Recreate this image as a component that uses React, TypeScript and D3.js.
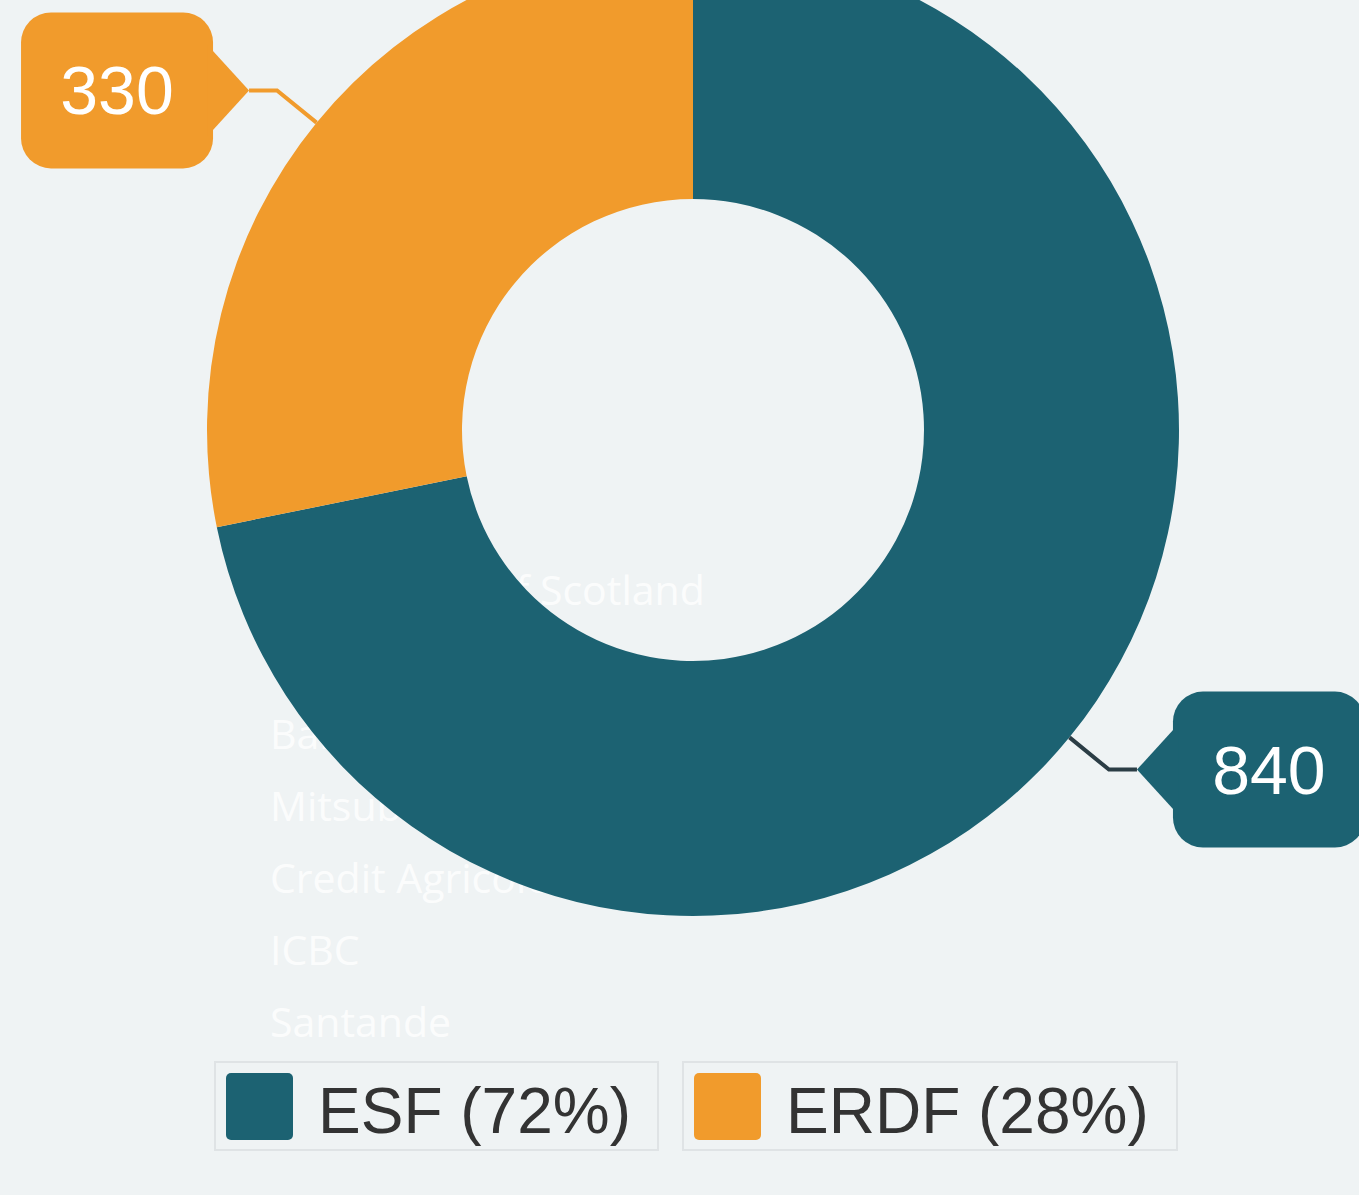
import React from "react";
import * as d3 from "d3";

const categories = ["ESF", "ERDF"];
const values = [840, 330];
const colors = ["#1c6272", "#f19b2c"];
const connectorColors = ["#2b3d45", "#f19b2c"];
const ghostLabels = [
  "Royal Bank of Scotland",
  "BNP Paribas",
  "Barclays",
  "Mitsubishi UFJ",
  "Credit Agricole",
  "ICBC",
  "Santande",
];

const W = 1359;
const H = 1195;
const BG = "#eff3f4";

export default function App() {
  const cx = 693;
  const cy = 430;
  const outerR = 486;
  const innerR = 231;
  const total = d3.sum(values);

  const pie = d3
    .pie<number>()
    .sort(null)
    .value((d) => d)
    .startAngle(0)
    .endAngle(2 * Math.PI);
  const arcs = pie(values);
  const arc = d3.arc<d3.PieArcDatum<number>>().innerRadius(innerR).outerRadius(outerR);

  const pointAt = (angle: number, r: number): [number, number] => [
    cx + r * Math.sin(angle),
    cy - r * Math.cos(angle),
  ];

  const ghostY = d3.scaleLinear().domain([0, ghostLabels.length - 1]).range([605, 1037]);

  const boxW = 192;
  const boxH = 156;
  const arrowLen = 36;
  const legendLeft = [215, 683];
  const legendW = [443, 494];

  return (
    <svg
      width={W}
      height={H}
      style={{ position: "absolute", left: 0, top: 0, display: "block" }}
    >
      <rect x={0} y={0} width={W} height={H} fill={BG} />
      {ghostLabels.map((t, i) => (
        <text
          key={t}
          x={270}
          y={ghostY(i)}
          fill="#ffffff"
          fillOpacity={0.8}
          fontFamily="'Open Sans', sans-serif"
          fontSize={41}
        >
          {t}
        </text>
      ))}
      <g transform={`translate(${cx},${cy})`}>
        {arcs.map((a, i) => (
          <path key={i} d={arc(a) || ""} fill={colors[i]} />
        ))}
      </g>
      {arcs.map((a, i) => {
        const mid = (a.startAngle + a.endAngle) / 2;
        const p0 = pointAt(mid, outerR);
        const p1 = pointAt(mid, outerR + 51);
        const right = Math.sin(mid) > 0;
        const dir = right ? 1 : -1;
        const tipX = p1[0] + dir * 28;
        const tipY = p1[1];
        const boxEdge = tipX + dir * arrowLen;
        const bx = right ? boxEdge : boxEdge - boxW;
        const by = tipY - boxH / 2;
        const tri = `M${boxEdge + dir * 6},${tipY - 46} L${tipX},${tipY} L${boxEdge + dir * 6},${tipY + 46} Z`;
        return (
          <g key={"c" + i}>
            <polyline
              points={`${p0[0]},${p0[1]} ${p1[0]},${p1[1]} ${tipX},${tipY}`}
              fill="none"
              stroke={connectorColors[i]}
              strokeWidth={4}
            />
            <rect x={bx} y={by} width={boxW} height={boxH} rx={30} fill={colors[i]} />
            <path d={tri} fill={colors[i]} />
            <text
              x={bx + boxW / 2}
              y={tipY + 24}
              textAnchor="middle"
              fill="#ffffff"
              fontFamily="'Liberation Sans', Arial, sans-serif"
              fontSize={68}
            >
              {values[i]}
            </text>
          </g>
        );
      })}
      {categories.map((c, i) => {
        const lx = legendLeft[i];
        const pct = Math.round((values[i] / total) * 100);
        return (
          <g key={"l" + c}>
            <rect
              x={lx}
              y={1062}
              width={legendW[i]}
              height={88}
              fill="none"
              stroke="#dfe3e5"
              strokeWidth={2}
            />
            <rect x={lx + 11} y={1073} width={67} height={67} rx={5} fill={colors[i]} />
            <text
              x={lx + 103}
              y={1133}
              fill="#333333"
              fontFamily="'Liberation Sans', Arial, sans-serif"
              fontSize={64}
            >
              {`${c} (${pct}%)`}
            </text>
          </g>
        );
      })}
    </svg>
  );
}
